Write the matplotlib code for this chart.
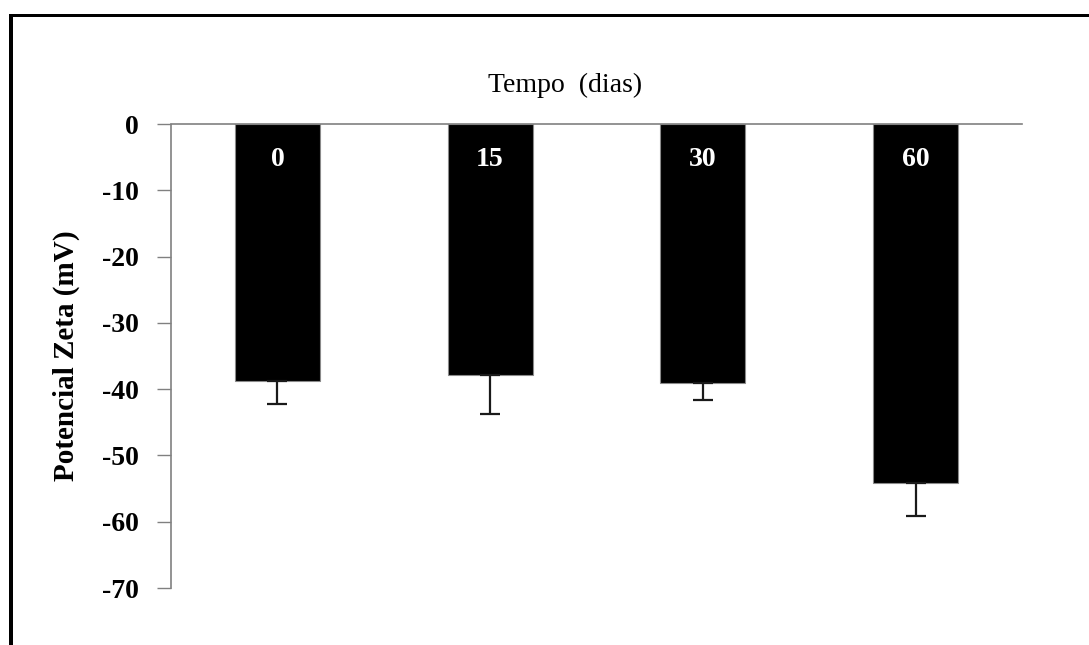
import matplotlib
matplotlib.use("Agg")
import matplotlib.pyplot as plt
from matplotlib.patches import Rectangle
import numpy as np

categories = ["0", "15", "30", "60"]
zeta_mean = [-38.7, -37.9, -39.0, -54.2]
zeta_err = [3.5, 5.8, 2.7, 5.0]
y_ticks = [0, -10, -20, -30, -40, -50, -60, -70]
title_text = "Tempo  (dias)"
ylabel_text = "Potencial Zeta (mV)"

plt.rcParams['font.family'] = ['Liberation Serif', 'DejaVu Serif']

W, H = 1089, 645
fig = plt.figure(figsize=(W / 100, H / 100), dpi=100)
fig.patch.set_facecolor("white")

ax = fig.add_axes([171 / W, 1 - 588 / H, (1022 - 171) / W, (588 - 124) / H])
x = np.arange(len(categories))
bars = ax.bar(x, zeta_mean, width=0.40, color="black", edgecolor="#8a8a8a",
              linewidth=0.8, zorder=2)
ax.errorbar(x, zeta_mean, yerr=[zeta_err, [0] * len(zeta_err)], fmt="none",
            ecolor="#1a1a1a", elinewidth=1.6, capsize=7, capthick=1.6, zorder=3)

for xi, lab in zip(x, categories):
    ax.text(xi, -5.4, lab, ha="center", va="center", color="white",
            fontsize=20, fontweight="bold", zorder=4)

ax.set_xlim(-0.5, 3.5)
ax.set_ylim(-70, 0)
ax.set_yticks(y_ticks)
ax.set_yticklabels([str(v) for v in y_ticks], fontsize=20, fontweight="bold")
ax.set_xticks([])
ax.tick_params(axis="y", direction="out", length=10, width=1, color="#808080", pad=13)

for s in ["bottom", "right"]:
    ax.spines[s].set_visible(False)
for s in ["left", "top"]:
    ax.spines[s].set_color("#808080")
    ax.spines[s].set_linewidth(1.2)
    ax.spines[s].set_linestyle((0, (2, 1)))

ax.set_ylabel(ylabel_text, fontsize=21, fontweight="bold")
ax.yaxis.set_label_coords((80 - 171) / (1022 - 171), 0.5)

ax.text((565 - 171) / (1022 - 171), 1 + (124 - 85) / (588 - 124), title_text,
        transform=ax.transAxes, ha="center", va="center", fontsize=20)

# outer frame (left and top edges visible)
fig.add_artist(Rectangle((9 / W, 0), 4 / W, 1 - 14 / H, transform=fig.transFigure,
                         facecolor="black", edgecolor="none"))
fig.add_artist(Rectangle((9 / W, 1 - 17 / H), 1 - 9 / W, 3 / H, transform=fig.transFigure,
                         facecolor="black", edgecolor="none"))

fig.savefig("out.png", dpi=100, facecolor="white")
